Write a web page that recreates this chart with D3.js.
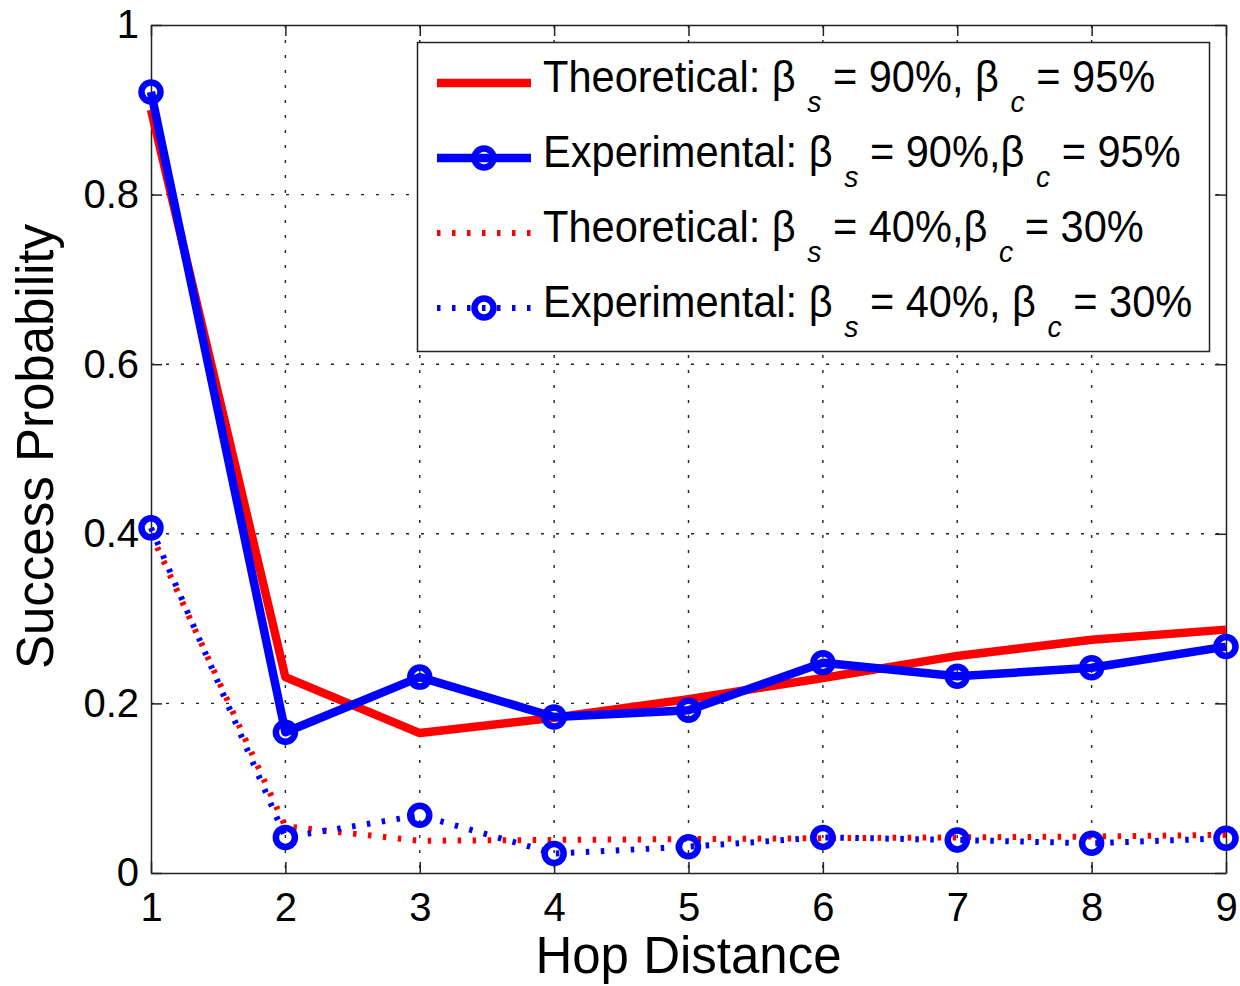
<!DOCTYPE html>
<html>
  <head>
    <title>Success Probability vs Hop Distance</title>
    <script src="https://d3js.org/d3.v7.min.js"></script>
    <style>
      body {
        margin: 0;
        background: #fff;
      }
      text {
        font-family: "Liberation Sans", Arial, Helvetica, sans-serif;
        fill: #000;
      }
    </style>
  </head>
  <body>
    <div id="chart"></div>
    <script>
      // Data
      const hops = [1, 2, 3, 4, 5, 6, 7, 8, 9];
      const theo90 = [0.9, 0.231, 0.165, 0.183, 0.205, 0.23, 0.256, 0.275, 0.287];
      const exp90 = [0.921, 0.166, 0.231, 0.184, 0.192, 0.248, 0.232, 0.242, 0.267];
      const theo40 = [0.4, 0.055, 0.038, 0.039, 0.04, 0.041, 0.042, 0.043, 0.045];
      const exp40 = [0.407, 0.042, 0.068, 0.023, 0.031, 0.042, 0.039, 0.035, 0.041];
      const yTicks = [0, 0.2, 0.4, 0.6, 0.8, 1];
      const yTickLabels = ["0", "0.2", "0.4", "0.6", "0.8", "1"];

      // legend labels: [text, isSubscript]
      const legendLabels = [
        [["Theoretical: β ", false], ["s", true], [" = 90%, β ", false], ["c", true], [" = 95%", false]],
        [["Experimental: β ", false], ["s", true], [" = 90%,β ", false], ["c", true], [" = 95%", false]],
        [["Theoretical: β ", false], ["s", true], [" = 40%,β ", false], ["c", true], [" = 30%", false]],
        [["Experimental: β ", false], ["s", true], [" = 40%, β ", false], ["c", true], [" = 30%", false]],
      ];

      const series = [
        { values: theo90, color: "#ff0000", dash: null, marker: false, width: 8.5 },
        { values: exp90, color: "#0000ff", dash: null, marker: true, width: 8.5 },
        { values: theo40, color: "#ff0000", dash: "3.5,11.5", marker: false, width: 6 },
        { values: exp40, color: "#0000ff", dash: "3.5,11.5", marker: true, width: 6 },
      ];

      const W = 1240, H = 986;
      const plotL = 151, plotR = 1226, plotT = 25, plotB = 873;

      const svg = d3
        .select("#chart")
        .append("svg")
        .attr("width", W)
        .attr("height", H);

      const x = d3.scaleLinear().domain([1, 9]).range([plotL, plotR]);
      const y = d3.scaleLinear().domain([0, 1]).range([plotB, plotT]);

      // grid
      const grid = svg.append("g")
        .attr("stroke", "#222")
        .attr("stroke-width", 1.4)
        .attr("stroke-dasharray", "3,12");
      grid.selectAll(".gx")
        .data(hops.slice(1, -1))
        .join("line")
        .attr("x1", (d) => x(d))
        .attr("x2", (d) => x(d))
        .attr("y1", plotT)
        .attr("y2", plotB);
      grid.selectAll(".gy")
        .data(yTicks.slice(1, -1))
        .join("line")
        .attr("x1", plotL)
        .attr("x2", plotR)
        .attr("y1", (d) => y(d))
        .attr("y2", (d) => y(d));

      // axes (ticks inward, box on)
      const tick = 11;
      svg.append("g")
        .attr("transform", `translate(0,${plotB})`)
        .call(d3.axisBottom(x).tickValues(hops).tickSize(-tick).tickSizeOuter(0).tickPadding(20));
      svg.append("g")
        .attr("transform", `translate(${plotL},0)`)
        .call(d3.axisLeft(y).tickValues(yTicks).tickSize(-tick).tickSizeOuter(0).tickPadding(12)
          .tickFormat((d, i) => yTickLabels[i]));
      svg.append("g")
        .attr("transform", `translate(0,${plotT})`)
        .call(d3.axisTop(x).tickValues(hops).tickSize(-tick).tickSizeOuter(0).tickFormat(""));
      svg.append("g")
        .attr("transform", `translate(${plotR},0)`)
        .call(d3.axisRight(y).tickValues(yTicks).tickSize(-tick).tickSizeOuter(0).tickFormat(""));

      svg.selectAll(".domain").attr("stroke", "#222").attr("stroke-width", 1.5);
      svg.selectAll(".tick line").attr("stroke", "#222").attr("stroke-width", 1.5);
      svg.selectAll(".tick text")
        .style("font-family", '"Liberation Sans", Arial, sans-serif')
        .style("font-size", "40px")
        .attr("fill", "#000");

      // series
      const line = d3.line()
        .x((d, i) => x(hops[i]))
        .y((d) => y(d));

      series.forEach((s) => {
        svg.append("path")
          .datum(s.values)
          .attr("fill", "none")
          .attr("stroke", s.color)
          .attr("stroke-width", s.width)
          .attr("stroke-linejoin", "round")
          .attr("stroke-dasharray", s.dash)
          .attr("d", line);
        if (s.marker) {
          svg.append("g")
            .selectAll("circle")
            .data(s.values)
            .join("circle")
            .attr("cx", (d, i) => x(hops[i]))
            .attr("cy", (d) => y(d))
            .attr("r", 9.5)
            .attr("fill", "none")
            .attr("stroke", s.color)
            .attr("stroke-width", 6.5);
        }
      });

      // axis labels
      svg.append("text")
        .attr("x", (plotL + plotR) / 2)
        .attr("y", 973)
        .attr("text-anchor", "middle")
        .style("font-size", "51px")
        .text("Hop Distance");

      svg.append("text")
        .attr("transform", `translate(53,${(220 + 673) / 2}) rotate(-90)`)
        .attr("text-anchor", "middle")
        .style("font-size", "51px")
        .text("Success Probability");

      // legend
      const legend = svg.append("g");
      legend.append("rect")
        .attr("x", 417.5)
        .attr("y", 42.5)
        .attr("width", 792)
        .attr("height", 309)
        .attr("fill", "#fff")
        .attr("stroke", "#222")
        .attr("stroke-width", 1.5);

      const rowY = (i) => 83 + i * 75;
      series.forEach((s, i) => {
        const ly = rowY(i);
        legend.append("line")
          .attr("x1", 437)
          .attr("x2", 531)
          .attr("y1", ly)
          .attr("y2", ly)
          .attr("stroke", s.color)
          .attr("stroke-width", s.width)
          .attr("stroke-dasharray", s.dash);
        if (s.marker) {
          legend.append("circle")
            .attr("cx", 484)
            .attr("cy", ly)
            .attr("r", 9.5)
            .attr("fill", "none")
            .attr("stroke", s.color)
            .attr("stroke-width", 6.5);
        }
        const t = legend.append("text")
          .attr("transform", `translate(543,${ly + 9}) scale(0.945,1)`)
          .style("font-size", "44px");
        legendLabels[i].forEach(([str, sub], k) => {
          const prevSub = k > 0 && legendLabels[i][k - 1][1];
          t.append("tspan")
            .attr("dy", sub ? 20 : prevSub ? -20 : 0)
            .style("font-size", sub ? "30px" : "44px")
            .style("font-style", sub ? "italic" : "normal")
            .style("white-space", "pre")
            .text(str);
        });
      });
    </script>
  </body>
</html>
